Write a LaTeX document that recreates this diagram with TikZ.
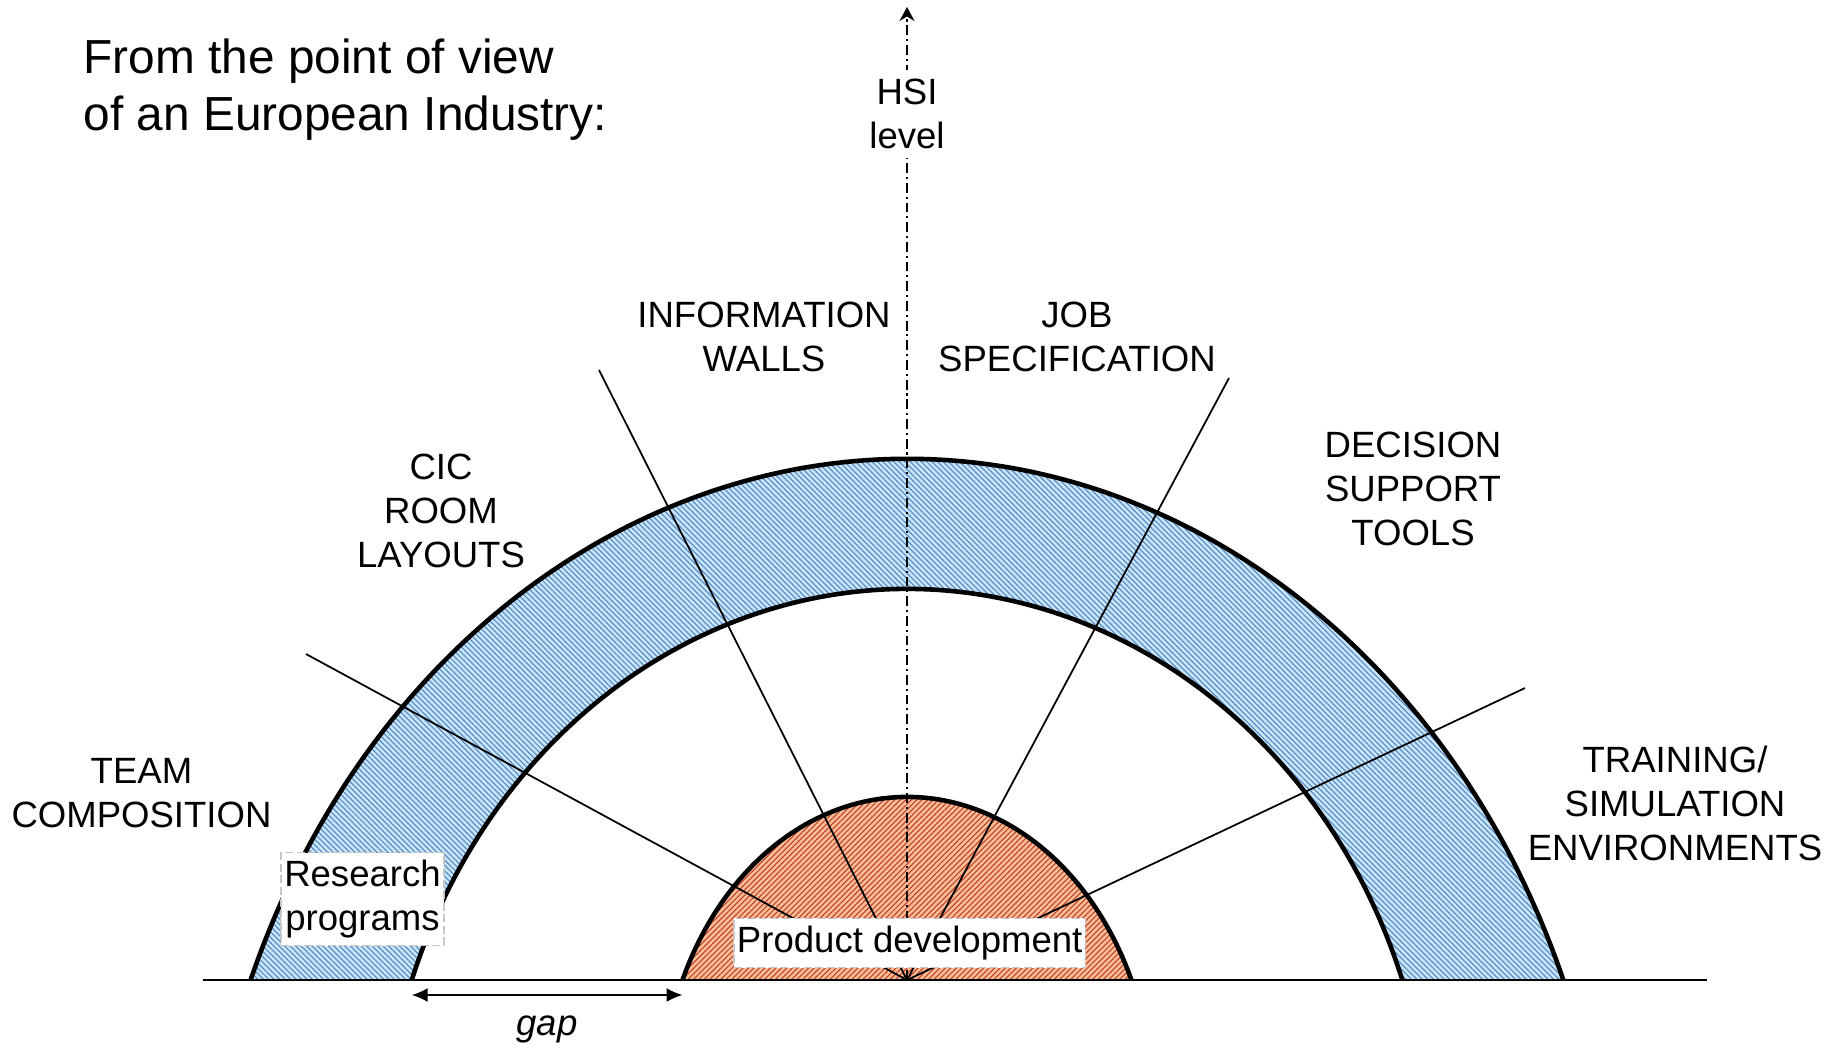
\documentclass[tikz,border=0pt]{standalone}
\usepackage{fontspec}
\setmainfont{Liberation Sans}
\usepackage{xcolor}
\usetikzlibrary{calc}
\usetikzlibrary{patterns.meta}
\usetikzlibrary{arrows.meta}

\definecolor{birumuda}{RGB}{200,228,247}
\definecolor{birutua}{RGB}{80,135,195}
\definecolor{oranye}{RGB}{250,190,145}
\definecolor{merahtua}{RGB}{190,60,50}

\tikzset{
    garis/.style={line width=1.3pt},
    sinar/.style={line width=0.5pt},
    dasar/.style={line width=0.6pt},
    sumbu/.style={line width=0.5pt, dash pattern=on 2.8pt off 1.1pt on 0.6pt off 1.1pt,
        -{Stealth[length=0.14cm,width=0.15cm]}},
    panah/.style={line width=0.5pt, {Latex[length=0.16cm,width=0.14cm]}-{Latex[length=0.16cm,width=0.14cm]}},
    teks/.style={font=\fontsize{10.4}{12.5}\selectfont, align=center, inner sep=0pt},
    judul/.style={font=\fontsize{13.6}{16.3}\selectfont, align=left, inner sep=0pt},
    kotak/.style={teks, fill=white, draw=gray!45, line width=0.5pt,
        dash pattern=on 2.3pt off 1pt, inner xsep=0.03cm, inner ysep=0.075cm},
    arsirbiru/.style={preaction={fill=birumuda},
        pattern={Lines[angle=-45,distance=1.1pt,line width=0.3pt]}, pattern color=birutua},
    arsirmerah/.style={preaction={fill=oranye},
        pattern={Lines[angle=45,distance=1.1pt,line width=0.3pt]}, pattern color=merahtua}
}

\begin{document}
\begin{tikzpicture}
    % batas gambar
    \useasboundingbox (-9.07cm,-0.64cm) rectangle (9.30cm,9.80cm);

    % titik-titik dasar
    \coordinate (O)          at (0cm,0cm);
    \coordinate (kiri)       at (-7.04cm,0cm);
    \coordinate (kanan)      at (8.00cm,0cm);
    \coordinate (puncak)     at (0cm,9.73cm);
    \coordinate (luarKiri)   at (-6.564cm,0cm);
    \coordinate (dalamKiri)  at (-4.953cm,0cm);
    \coordinate (dalamKanan) at (4.953cm,0cm);
    \coordinate (merahKiri)  at (-2.245cm,0cm);

    % pita biru
    \path[arsirbiru] (luarKiri) arc[start angle=158.19, end angle=21.81, x radius=7.07cm, y radius=8.29cm]
        -- (dalamKanan) arc[start angle=19.37, end angle=160.63, x radius=5.25cm, y radius=5.85cm] -- cycle;
    \draw[garis] (luarKiri) arc[start angle=158.19, end angle=21.81, x radius=7.07cm, y radius=8.29cm];
    \draw[garis] (dalamKanan) arc[start angle=19.37, end angle=160.63, x radius=5.25cm, y radius=5.85cm];

    % kubah merah
    \path[arsirmerah] (merahKiri) arc[start angle=156.06, end angle=23.94, x radius=2.456cm, y radius=3.08cm] -- cycle;
    \draw[garis] (merahKiri) arc[start angle=156.06, end angle=23.94, x radius=2.456cm, y radius=3.08cm];

    % ujung-ujung sinar
    \coordinate (T) at (-6.01cm,3.26cm);
    \coordinate (I) at (-3.08cm,6.10cm);
    \coordinate (J) at (3.22cm,6.02cm);
    \coordinate (S) at (6.18cm,2.92cm);

    % pembuatan sinar
    \draw[sinar] (O) -- (T);
    \draw[sinar] (O) -- (I);
    \draw[sinar] (O) -- (J);
    \draw[sinar] (O) -- (S);

    % sumbu dan garis dasar
    \draw[sumbu] (O) -- (puncak);
    \draw[dasar] (kiri) -- (kanan);

    % panah gap
    \coordinate (gapKiri)  at ($(dalamKiri)+(0,-0.15)$);
    \coordinate (gapKanan) at ($(merahKiri)+(0,-0.15)$);
    \draw[panah] (gapKiri) -- (gapKanan);
    \node[teks, anchor=base] (celah) at ($(gapKiri)!0.5!(gapKanan)+(0,-0.40)$) {\itshape gap};

    % kotak-kotak
    \node[kotak] (riset)  at (-5.445cm,0.81cm) {Research\\programs};
    \node[kotak] (produk) at (0.027cm,0.37cm) {Product development};

    % label-label
    \node[judul, anchor=north west] (judul) at (-8.24cm,9.42cm) {From the point of view\\of an European Industry:};
    \node[teks, fill=white, inner sep=0.09cm] (hsi) at (0cm,8.66cm) {HSI\\level};
    \node[teks] (info)     at (-1.43cm,6.43cm) {INFORMATION\\WALLS};
    \node[teks] (job)      at (1.70cm,6.43cm)  {JOB\\SPECIFICATION};
    \node[teks] (cic)      at (-4.66cm,4.69cm) {CIC\\ROOM\\LAYOUTS};
    \node[teks] (decision) at (5.06cm,4.91cm)  {DECISION\\SUPPORT\\TOOLS};
    \node[teks] (team)     at (-7.655cm,1.872cm) {TEAM\\COMPOSITION};
    \node[teks] (training) at (7.68cm,1.77cm)  {TRAINING/\\SIMULATION\\ENVIRONMENTS};
\end{tikzpicture}
\end{document}
